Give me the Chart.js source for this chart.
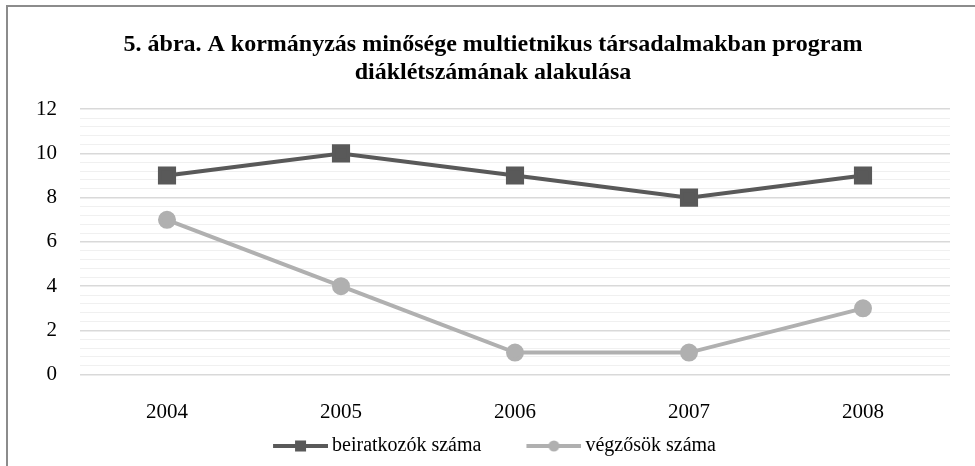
<!DOCTYPE html>
<html>
<head>
<meta charset="utf-8">
<script src="https://cdn.jsdelivr.net/npm/chart.js@4.4.1/dist/chart.umd.min.js"></script>
<style>
  html, body { margin: 0; padding: 0; background: #fff; }
  #wrap { position: relative; width: 975px; height: 466px; }
  #c { position: absolute; left: 0; top: 0; }
  #bt { position: absolute; left: 6px; top: 5px; width: 969px; height: 2px; background: #8c8c8c; }
  #bl { position: absolute; left: 6px; top: 5px; width: 2px; height: 461px; background: #8c8c8c; }
</style>
</head>
<body>
<div id="wrap">
  <canvas id="c" width="975" height="466"></canvas>
  <div id="bt"></div>
  <div id="bl"></div>
</div>
<script>
const titleLines = ["5. ábra. A kormányzás minősége multietnikus társadalmakban program", "diáklétszámának alakulása"];
const categories = ["2004", "2005", "2006", "2007", "2008"];
const enrolled = [9, 10, 9, 8, 9];
const graduated = [7, 4, 1, 1, 3];
const seriesNames = ["beiratkozók száma", "végzősök száma"];
const yMin = 0, yMax = 12, yMinorStep = 0.4, yLabelStep = 2;

const FONT = "'Liberation Serif', 'Times New Roman', serif";
const C1 = '#595959', C2 = '#b0b0b0';

const BOXW = 84;
function legendIcon(color, kind) {
  const cv = document.createElement('canvas');
  cv.width = BOXW + 12; cv.height = 16;
  const g = cv.getContext('2d');
  const x0 = cv.width - 55, x1 = cv.width, mx = (x0 + x1) / 2;
  g.strokeStyle = color; g.lineWidth = 4;
  g.beginPath(); g.moveTo(x0, 8); g.lineTo(x1, 8); g.stroke();
  g.fillStyle = color;
  if (kind === 'rect') { g.fillRect(mx - 5.5, 8 - 5.5, 11, 11); }
  else { g.beginPath(); g.arc(mx, 8, 5.5, 0, Math.PI * 2); g.fill(); }
  return cv;
}
const icons = [legendIcon(C1, 'rect'), legendIcon(C2, 'circle')];

function isMajor(v) {
  const r = Math.round(v);
  return Math.abs(v - r) < 1e-6 && r % yLabelStep === 0;
}

const legendShift = {
  id: 'legendShift',
  afterLayout(chart) {
    if (chart.legend) { chart.legend.left -= 32; }
  }
};

new Chart(document.getElementById('c'), {
  type: 'line',
  plugins: [legendShift],
  data: {
    labels: categories,
    datasets: [
      { label: seriesNames[0], data: enrolled, borderColor: C1, backgroundColor: C1,
        borderWidth: 4, pointStyle: 'rect', pointRadius: 10, pointHoverRadius: 10, tension: 0 },
      { label: seriesNames[1], data: graduated, borderColor: C2, backgroundColor: C2,
        borderWidth: 4, pointStyle: 'circle', pointRadius: 7, pointHoverRadius: 7, tension: 0 }
    ]
  },
  options: {
    responsive: false,
    animation: false,
    layout: { padding: { left: 36, right: 25, top: 0, bottom: 0 } },
    plugins: {
      tooltip: { enabled: false },
      title: {
        display: true, text: titleLines, color: '#000',
        font: { family: FONT, size: 24, weight: 'bold', lineHeight: 1.17 },
        padding: { top: 31, bottom: 22 }
      },
      legend: {
        position: 'bottom',
        labels: {
          usePointStyle: true, pointStyleWidth: BOXW,
          generateLabels: (chart) => chart.data.datasets.map((d, i) => ({
            text: d.label, pointStyle: icons[i], fillStyle: d.borderColor,
            strokeStyle: d.borderColor, lineWidth: 0, fontColor: '#000', datasetIndex: i, hidden: false
          })),
          color: '#000', padding: 10,
          font: { family: FONT, size: 20 }
        }
      }
    },
    scales: {
      x: {
        offset: true,
        grid: { display: false, drawTicks: false },
        border: { display: false },
        ticks: { color: '#000', padding: 25, font: { family: FONT, size: 21 } },
        afterFit: (s) => { s.height = 51.3; }
      },
      y: {
        min: yMin, max: yMax,
        border: { display: false },
        grid: {
          drawTicks: false,
          color: (ctx) => isMajor(ctx.tick.value) ? '#d9d9d9' : '#f0f0f0',
          lineWidth: (ctx) => isMajor(ctx.tick.value) ? 1.5 : 1
        },
        ticks: {
          stepSize: yMinorStep, autoSkip: false, color: '#000', padding: 23,
          font: { family: FONT, size: 21 },
          callback: (v) => isMajor(v) ? String(Math.round(v)) : ''
        },
        afterFit: (s) => { s.width = 44; }
      }
    }
  }
});
</script>
</body>
</html>
